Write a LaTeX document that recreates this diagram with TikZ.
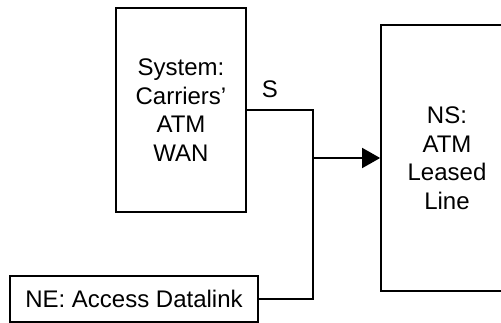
\documentclass[tikz,border=0pt]{standalone}
\usepackage{fontspec}
\setmainfont{Liberation Sans}
\usetikzlibrary{arrows.meta}
\begin{document}
\begin{tikzpicture}[x=1pt,y=-1pt,
  box/.style={draw, line width=1.7pt, inner sep=0pt, align=center, font=\fontsize{24}{28.5}\selectfont},
  wire/.style={line width=1.7pt},
  lbl/.style={font=\fontsize{24}{28}\selectfont, inner sep=0pt}]
\useasboundingbox (0,0) rectangle (501,323);
\node[box, minimum width=130pt, minimum height=204pt] (sys) at (181,110) {System:\\Carriers’\\ATM\\WAN};
\node[box, minimum width=132pt, minimum height=266pt] (ns) at (447,158) {NS:\\ATM\\Leased\\Line};
\node[box, minimum width=248pt, minimum height=46pt] (ne) at (134,299) {NE: Access Datalink};
\node[lbl] (s) at (270,89) {S};
\coordinate (j1) at (313,110);
\coordinate (j) at (313,158);
\draw[wire] (sys.east) -- (j1) -- (j1 |- ne.east) -- (ne.east);
\draw[wire, -{Triangle[length=18pt,width=20pt]}] (j) -- (ns.west);
\end{tikzpicture}
\end{document}
